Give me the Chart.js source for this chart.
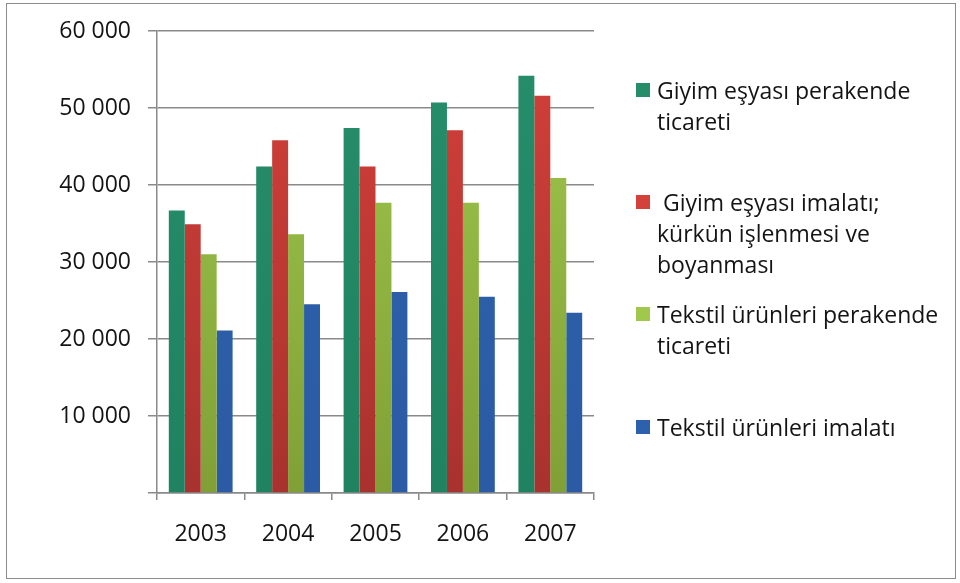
<!DOCTYPE html>
<html>
<head>
<meta charset="utf-8">
<script src="https://cdn.jsdelivr.net/npm/chart.js@4"></script>
<style>
  body { margin: 0; background: #fff; }
  #wrap { position: relative; width: 960px; height: 583px; }
  #frame { position: absolute; left: 6px; top: 3px; width: 948px; height: 574px; border: 1.5px solid #8c8c8c; }
  canvas { position: absolute; left: 0; top: 0; }
  .item { position: absolute; left: 636px; font: 23px "Open Sans", sans-serif; color: #141414; line-height: 31px; }
  .item .box { position: absolute; left: 0; top: 8px; width: 14px; height: 14px; }
  .item .txt { position: absolute; left: 21px; white-space: pre; }
</style>
</head>
<body>
<div id="wrap">
  <div id="frame"></div>
  <canvas id="chart" width="960" height="583"></canvas>
  <div id="legend"></div>
</div>
<script>
const years = ["2003", "2004", "2005", "2006", "2007"];
const seriesNames = [
  ["Giyim eşyası perakende", "ticareti"],
  [" Giyim eşyası imalatı;", "kürkün işlenmesi ve", "boyanması"],
  ["Tekstil ürünleri perakende", "ticareti"],
  ["Tekstil ürünleri imalatı"]
];
const giyimPerakende = [36700, 42400, 47400, 50700, 54200];
const giyimImalat = [34900, 45800, 42400, 47100, 51600];
const tekstilPerakende = [31000, 33600, 37700, 37700, 40900];
const tekstilImalat = [21100, 24500, 26100, 25500, 23400];
const yTicks = [0, 10000, 20000, 30000, 40000, 50000, 60000];

// top / bottom shades of each series
const shades = [
  ["#268d6a", "#1f8260"],
  ["#d4403a", "#a8322e"],
  ["#a0c84d", "#80a036"],
  ["#2e61ad", "#2b5ba4"]
];
const legendTops = [75, 187, 299, 412];

function grad(i) {
  return (ctx) => {
    const area = ctx.chart.chartArea;
    if (!area) return shades[i][0];
    const g = ctx.chart.ctx.createLinearGradient(0, area.top, 0, area.bottom);
    g.addColorStop(0, shades[i][0]);
    g.addColorStop(1, shades[i][1]);
    return g;
  };
}

const fmt = (v) => (v === 0 ? "" : String(v).replace(/\B(?=(\d{3})+(?!\d))/g, " "));
const font = { family: "Open Sans", size: 23 };

const values = [giyimPerakende, giyimImalat, tekstilPerakende, tekstilImalat];

new Chart(document.getElementById("chart"), {
  type: "bar",
  data: {
    labels: years,
    datasets: values.map((d, i) => ({
      label: seriesNames[i].join(" "),
      data: d,
      backgroundColor: grad(i),
      borderWidth: 0,
      barPercentage: 1,
      categoryPercentage: 0.73
    }))
  },
  options: {
    responsive: false,
    animation: false,
    layout: { padding: { top: 31, right: 366, left: 0, bottom: 0 } },
    plugins: { legend: { display: false }, tooltip: { enabled: false } },
    scales: {
      x: {
        afterFit: (s) => { s.height = 90; },
        grid: { drawOnChartArea: false, drawTicks: true, tickLength: 7, color: "#8a8a8a", lineWidth: 1.5 },
        border: { color: "#8a8a8a", width: 1.5 },
        ticks: { color: "#141414", font: font, padding: 21 }
      },
      y: {
        min: 0,
        max: 60000,
        afterFit: (s) => { s.width = 157; },
        afterBuildTicks: (s) => { s.ticks = yTicks.map((v) => ({ value: v })); },
        grid: { color: "#8a8a8a", lineWidth: 1.5, tickLength: 9 },
        border: { color: "#8a8a8a", width: 1.5 },
        ticks: { color: "#141414", font: font, padding: 17, callback: fmt }
      }
    }
  }
});

const legend = document.getElementById("legend");
seriesNames.forEach((lines, i) => {
  const item = document.createElement("div");
  item.className = "item";
  item.style.top = legendTops[i] + "px";
  const box = document.createElement("div");
  box.className = "box";
  box.style.background = shades[i][0];
  const txt = document.createElement("div");
  txt.className = "txt";
  txt.textContent = lines.join("\n");
  item.appendChild(box);
  item.appendChild(txt);
  legend.appendChild(item);
});
</script>
</body>
</html>
